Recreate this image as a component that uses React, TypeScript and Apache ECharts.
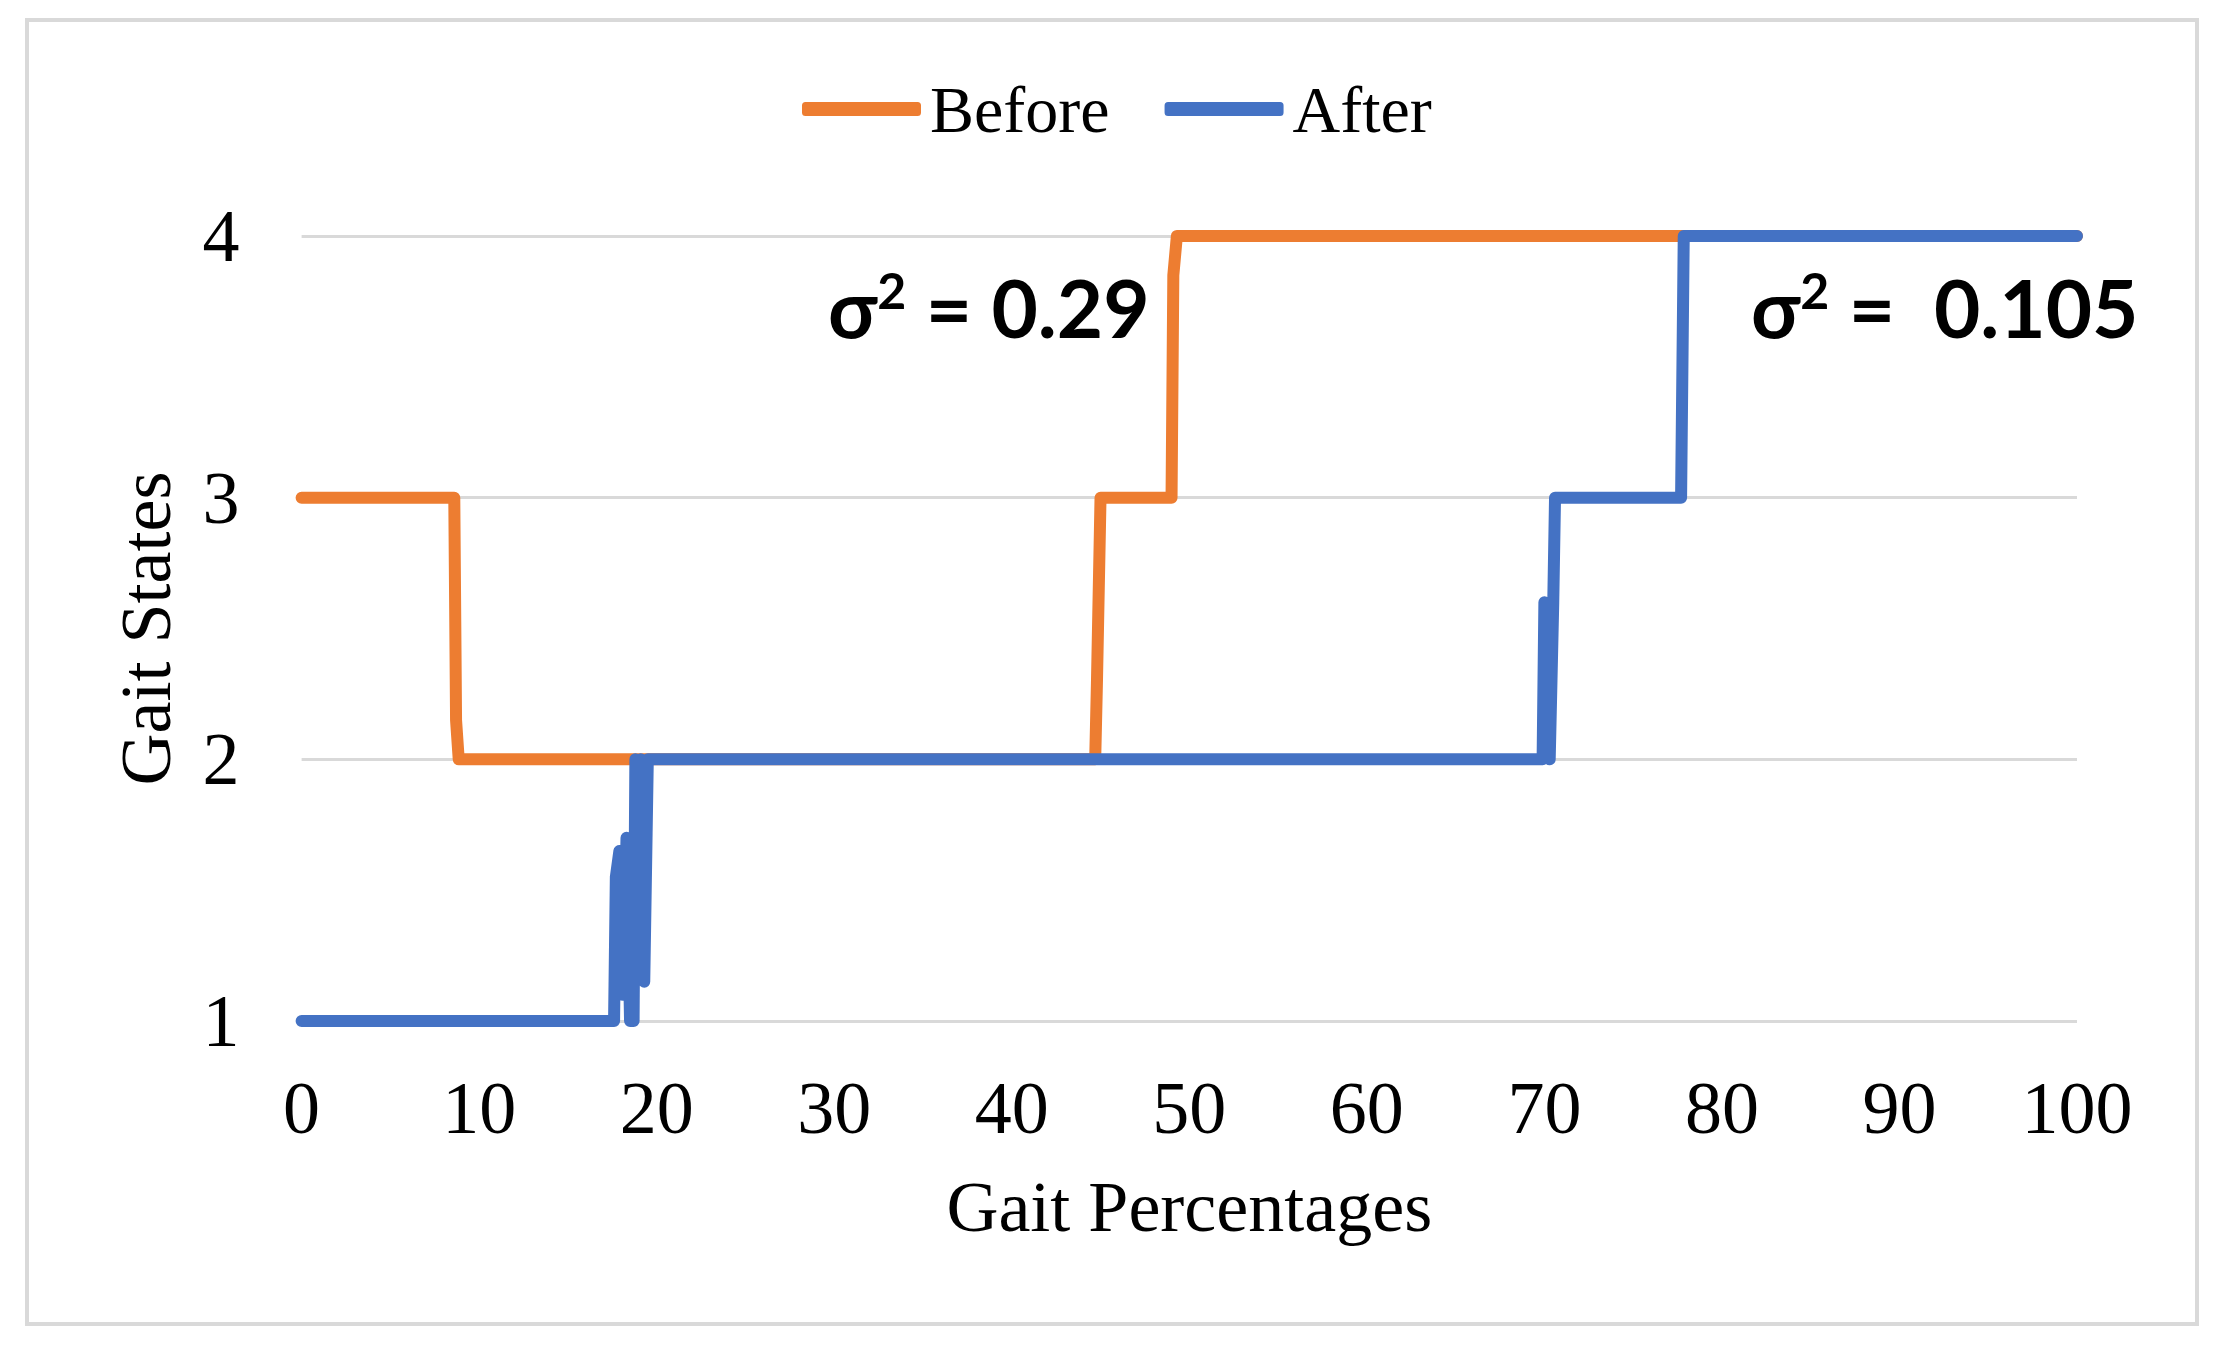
import React, { useEffect, useRef } from "react";
import * as echarts from "echarts";

const seriesNames = ["Before", "After"];
const xTicks = { min: 0, max: 100, interval: 10 };
const yTicks = { min: 1, max: 4, interval: 1 };

const beforePoints: [number, number][] = [
  [0, 3], [8.6, 3], [8.7, 2.15], [8.85, 2], [44.7, 2], [44.8, 2.3],
  [45.0, 3], [49.0, 3], [49.1, 3.85], [49.3, 4], [100, 4],
];

const afterPoints: [number, number][] = [
  [0, 1], [17.6, 1], [17.7, 1.55], [17.9, 1.65], [18.1, 1.1], [18.3, 1.7],
  [18.5, 1.0], [18.7, 1.0], [18.8, 2.0], [18.95, 1.3], [19.1, 2.0],
  [19.3, 1.15], [19.5, 2.0], [69.9, 2.0], [70.0, 2.6], [70.3, 2.0],
  [70.5, 2.6], [70.6, 3.0], [77.7, 3.0], [77.85, 4.0], [100, 4.0],
];

const annotationValues = ["= 0.29", "=  0.105"];

const ORANGE = "#ED7D31";
const BLUE = "#4472C4";
const SERIF = "'Liberation Serif', 'Times New Roman', serif";

const annotationRich = {
  b: { fontFamily: "Lato", fontWeight: "bold", fontSize: 80, lineHeight: 84, color: "#000", verticalAlign: "bottom" },
  s: { fontFamily: "Lato", fontWeight: "bold", fontSize: 50, lineHeight: 84, color: "#000", verticalAlign: "top", padding: [2, 0, 0, 0] },
};

export default function App() {
  const ref = useRef<HTMLDivElement>(null);
  useEffect(() => {
    if (!ref.current) return;
    const chart = echarts.init(ref.current, null, { renderer: "svg" });
    chart.setOption({
      animation: false,
      backgroundColor: "#ffffff",
      legend: {
        data: seriesNames,
        left: 797,
        top: 71,
        itemWidth: 119,
        itemHeight: 14,
        itemGap: 55,
        icon: "roundRect",
        textStyle: { fontFamily: SERIF, fontSize: 66, color: "#000", padding: [0, 0, 0, 4] },
      },
      grid: { left: 301.6, right: 143, top: 236, bottom: 329, containLabel: false },
      xAxis: {
        type: "value",
        min: xTicks.min,
        max: xTicks.max,
        interval: xTicks.interval,
        name: "Gait Percentages",
        nameLocation: "middle",
        nameGap: 150,
        nameTextStyle: { fontFamily: SERIF, fontSize: 72, color: "#000" },
        axisLine: { show: false },
        axisTick: { show: false },
        splitLine: { show: false },
        axisLabel: { fontFamily: SERIF, fontSize: 74, color: "#000", margin: 50 },
      },
      yAxis: {
        type: "value",
        min: yTicks.min,
        max: yTicks.max,
        interval: yTicks.interval,
        name: "Gait States",
        nameLocation: "middle",
        nameGap: 120,
        nameTextStyle: { fontFamily: SERIF, fontSize: 72, color: "#000" },
        axisLine: { show: false },
        axisTick: { show: false },
        splitLine: { show: true, lineStyle: { color: "#d9d9d9", width: 3 } },
        axisLabel: { fontFamily: SERIF, fontSize: 74, color: "#000", margin: 62 },
      },
      series: [
        {
          name: seriesNames[0],
          type: "line",
          data: beforePoints,
          showSymbol: false,
          symbol: "none",
          color: ORANGE,
          lineStyle: { color: ORANGE, width: 12, join: "round", cap: "round" },
        },
        {
          name: seriesNames[1],
          type: "line",
          data: afterPoints,
          showSymbol: false,
          symbol: "none",
          color: BLUE,
          lineStyle: { color: BLUE, width: 12, join: "round", cap: "round" },
        },
      ],
      graphic: [
        {
          type: "rect",
          shape: { x: 27, y: 20, width: 2170, height: 1304 },
          style: { fill: "none", stroke: "#d9d9d9", lineWidth: 4 },
          silent: true,
        },
        {
          type: "text",
          x: 828,
          y: 305,
          style: {
            text: "{b|σ}{s|2}{b| " + annotationValues[0] + "}",
            rich: annotationRich,
            textVerticalAlign: "middle",
          },
        },
        {
          type: "text",
          x: 1751,
          y: 305,
          style: {
            text: "{b|σ}{s|2}{b| " + annotationValues[1] + "}",
            rich: annotationRich,
            textVerticalAlign: "middle",
          },
        },
      ],
    });
    return () => chart.dispose();
  }, []);
  return (
    <div
      ref={ref}
      style={{ position: "fixed", left: 0, top: 0, width: 2220, height: 1350 }}
    />
  );
}
